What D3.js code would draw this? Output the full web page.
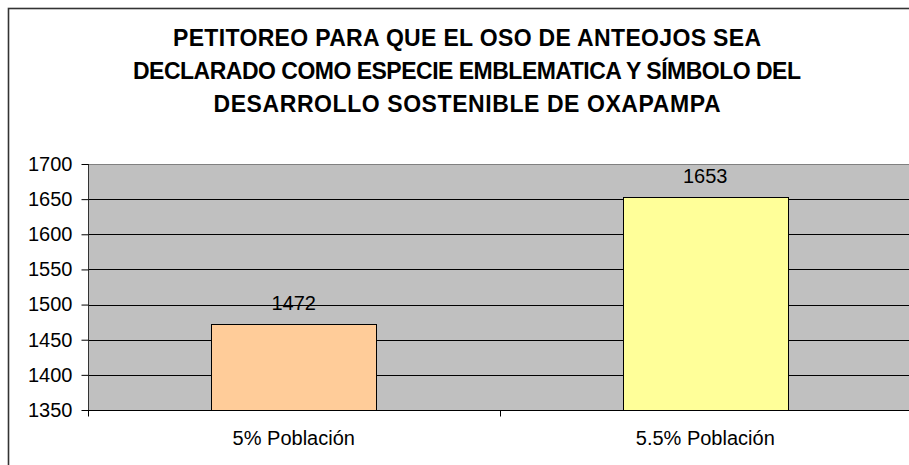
<!DOCTYPE html>
<html>
<head>
<meta charset="utf-8">
<script src="https://cdn.jsdelivr.net/npm/d3@7"></script>
<style>
  html, body { margin: 0; padding: 0; background: #ffffff; overflow: hidden; }
  svg { display: block; }
</style>
</head>
<body>
<svg id="chart" width="909" height="465"></svg>
<script>
const titleLines = [
  "PETITOREO PARA QUE EL OSO DE ANTEOJOS SEA",
  "DECLARADO COMO ESPECIE EMBLEMATICA Y SÍMBOLO DEL",
  "DESARROLLO SOSTENIBLE DE OXAPAMPA"
];
const categories = ["5% Población", "5.5% Población"];
const values = [1472, 1653];
const barColors = ["#FFCC99", "#FFFF99"];
const yTicks = [1350, 1400, 1450, 1500, 1550, 1600, 1650, 1700];

const svg = d3.select("#chart");
const font = "'Liberation Sans', Arial, sans-serif";

// outer chart border (extends beyond the viewport to the right/bottom)
svg.append("rect")
  .attr("x", 8.5).attr("y", 8.5)
  .attr("width", 1000).attr("height", 1000)
  .attr("fill", "#ffffff")
  .attr("stroke", "#333333").attr("stroke-width", 1.6);

// title
const title = svg.append("text")
  .attr("text-anchor", "middle")
  .attr("font-family", font)
  .attr("font-weight", "bold")
  .attr("font-size", 23)
  .attr("fill", "#000");
const titleBaselines = [46, 79, 112];
const titleWidths = [588, 668, 507];
titleLines.forEach((t, i) => {
  title.append("tspan")
    .attr("x", 467).attr("y", titleBaselines[i])
    .attr("textLength", titleWidths[i])
    .attr("lengthAdjust", "spacing")
    .text(t);
});

const plot = { left: 88, right: 911, top: 164, bottom: 410 };

const x = d3.scaleBand()
  .domain(categories)
  .range([plot.left, plot.right])
  .paddingInner(0.6)
  .paddingOuter(0.3);

const y = d3.scaleLinear()
  .domain([1350, 1700])
  .range([plot.bottom, plot.top]);

// plot area background
svg.append("rect")
  .attr("x", plot.left).attr("y", plot.top)
  .attr("width", plot.right - plot.left)
  .attr("height", plot.bottom - plot.top)
  .attr("fill", "#C0C0C0");

// gridlines
svg.append("g")
  .selectAll("line")
  .data(yTicks.filter(d => d > 1350 && d < 1700))
  .join("line")
  .attr("x1", plot.left).attr("x2", plot.right)
  .attr("y1", d => Math.round(y(d)) + 0.5)
  .attr("y2", d => Math.round(y(d)) + 0.5)
  .attr("stroke", "#000").attr("stroke-width", 1);

// plot top border
svg.append("line")
  .attr("x1", plot.left).attr("x2", plot.right)
  .attr("y1", plot.top + 0.5).attr("y2", plot.top + 0.5)
  .attr("stroke", "#808080").attr("stroke-width", 1);

// bars
svg.append("g")
  .selectAll("rect")
  .data(categories)
  .join("rect")
  .attr("x", d => Math.round(x(d)) + 0.5)
  .attr("y", (d, i) => Math.round(y(values[i])) + 0.5)
  .attr("width", Math.round(x.bandwidth()))
  .attr("height", (d, i) => Math.round(y(1350)) - Math.round(y(values[i])))
  .attr("fill", (d, i) => barColors[i])
  .attr("stroke", "#000").attr("stroke-width", 1);

// value labels
svg.append("g")
  .selectAll("text")
  .data(categories)
  .join("text")
  .attr("x", d => x(d) + x.bandwidth() / 2)
  .attr("y", (d, i) => y(values[i]) - 14)
  .attr("text-anchor", "middle")
  .attr("font-family", font)
  .attr("font-size", 20)
  .attr("fill", "#000")
  .text((d, i) => values[i]);

// y axis
const yAxis = d3.axisLeft(y)
  .tickValues(yTicks)
  .tickSize(7)
  .tickPadding(9)
  .tickFormat(d3.format("d"));
const gy = svg.append("g")
  .attr("transform", `translate(${plot.left + 0.5},0)`)
  .call(yAxis);
gy.select(".domain").attr("stroke", "#333").attr("d", `M0,${plot.top}V${plot.bottom + 6}`);
gy.selectAll(".tick line").attr("stroke", "#000");
gy.selectAll(".tick text")
  .attr("font-family", font)
  .attr("font-size", 20)
  .attr("fill", "#000");

// x axis
const xAxis = d3.axisBottom(x).tickSize(0).tickPadding(20);
const gx = svg.append("g")
  .attr("transform", `translate(0,${plot.bottom + 0.5})`)
  .call(xAxis);
gx.select(".domain").attr("stroke", "#000").attr("d", `M${plot.left},0H${plot.right}`);
gx.selectAll(".tick text")
  .attr("font-family", font)
  .attr("font-size", 20)
  .attr("fill", "#000")
  .attr("dy", "0.71em");

// category separator ticks
const boundaries = [plot.left, plot.left + (plot.right - plot.left) / 2, plot.right];
gx.append("g")
  .selectAll("line")
  .data(boundaries)
  .join("line")
  .attr("x1", d => Math.round(d) + 0.5).attr("x2", d => Math.round(d) + 0.5)
  .attr("y1", 0).attr("y2", 6)
  .attr("stroke", "#000");
</script>
</body>
</html>
